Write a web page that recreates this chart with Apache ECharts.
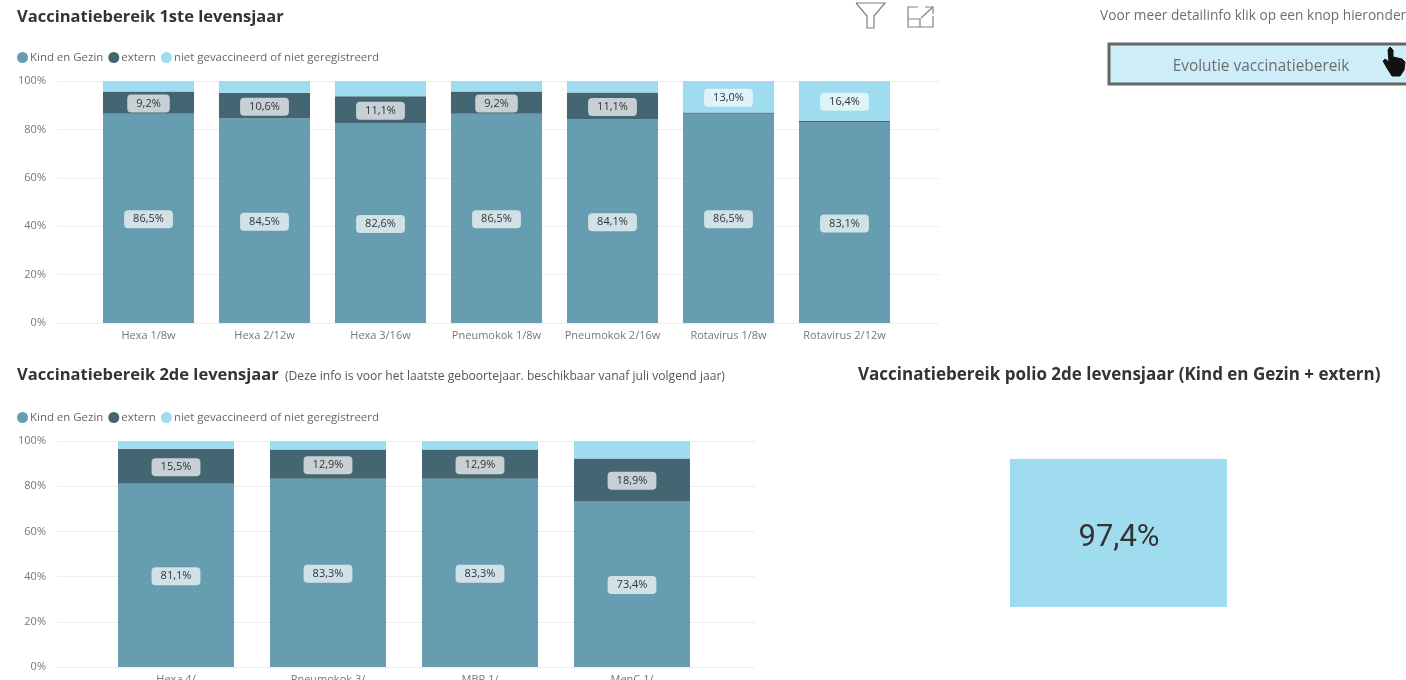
<!DOCTYPE html>
<html><head><meta charset="utf-8">
<style>html,body{margin:0;padding:0;background:#fff;overflow:hidden}#c{width:1406px;height:680px;filter:blur(0.35px)}</style>
<script src="https://cdn.jsdelivr.net/npm/echarts@6/dist/echarts.min.js"></script>
</head><body><div id="c"></div>
<script>
const seriesNames = ['Kind en Gezin', 'extern', 'niet gevaccineerd of niet geregistreerd'];
const seriesColors = ['#669DB0', '#436672', '#A0DCF0'];
const categories1 = ['Hexa 1/8w','Hexa 2/12w','Hexa 3/16w','Pneumokok 1/8w','Pneumokok 2/16w','Rotavirus 1/8w','Rotavirus 2/12w'];
const kindEnGezin1 = [86.5,84.5,82.6,86.5,84.1,86.5,83.1];
const extern1 = [9.2,10.6,11.1,9.2,11.1,0.5,0.5];
const niet1 = [4.3,4.9,6.3,4.3,4.8,13.0,16.4];
const externLabelled1 = [true,true,true,true,true,false,false];
const nietLabelled1 = [false,false,false,false,false,true,true];
const categories2 = ['Hexa 4/','Pneumokok 3/','MBR 1/','MenC 1/'];
const kindEnGezin2 = [81.1,83.3,83.3,73.4];
const extern2 = [15.5,12.9,12.9,18.9];
const niet2 = [3.4,3.8,3.8,7.7];
const polioValue = 97.4;
const yTicks = [0,20,40,60,80,100];

const FONT = '"Open Sans", sans-serif';
const fmt = v => v.toFixed(1).replace('.', ',') + '%';
const grey = '#777';

function barSeries(name, vals, color, xi, yi, labelBg, shown) {
  return {
    name, type:'bar', stack:'s'+xi, xAxisIndex:xi, yAxisIndex:yi,
    itemStyle:{color}, animation:false,
    barCategoryGap: xi===3 ? '23.7%' : '21.5%',
    data: vals.map((v,i)=>({value:v, label:{show: shown ? shown[i] : true}})),
    label:{show:true, position:'inside', offset:[0,1], formatter:p=>fmt(p.value),
      color:'#333', fontFamily:FONT, fontSize:11, backgroundColor:labelBg,
      borderRadius:4, padding:[3,9,3,9], lineHeight:12}
  };
}
const bgLight='rgba(255,255,255,0.7)';
const bgNiet='rgba(255,255,255,0.65)';

const grids = [
  {left:57,width:882,top:81,height:242,outerBoundsMode:'none'},
  {left:90.5,width:812,top:81,height:242,outerBoundsMode:'none'},
  {left:57,width:698,top:441,height:226,outerBoundsMode:'none'},
  {left:100,width:608,top:441,height:226,outerBoundsMode:'none'}
];
const xAxes = [
  {gridIndex:0,type:'category',data:[''],show:false},
  {gridIndex:1,type:'category',data:categories1,axisLine:{show:false},axisTick:{show:false},
    axisLabel:{color:grey,fontFamily:FONT,fontSize:11,margin:7,interval:0}},
  {gridIndex:2,type:'category',data:[''],show:false},
  {gridIndex:3,type:'category',data:categories2,axisLine:{show:false},axisTick:{show:false},
    axisLabel:{color:grey,fontFamily:FONT,fontSize:11,margin:7,interval:0}}
];
function yBack(g){return {gridIndex:g,type:'value',min:0,max:100,interval:20,
  splitLine:{lineStyle:{color:'#eeeeee',width:1}},axisLine:{show:false},axisTick:{show:false},
  axisLabel:{color:grey,fontFamily:FONT,fontSize:11,margin:11,formatter:v=>yTicks.includes(v)?v+'%':''}};}
function yHidden(g){return {gridIndex:g,type:'value',min:0,max:100,interval:20,show:false,splitLine:{show:false}};}

function txt(x,y,text,size,weight,color,align,font){
  return {type:'text',x,y,silent:true,style:{text,font:`${weight} ${size}px ${font||FONT}`,fill:color,textAlign:align||'left',textVerticalAlign:'middle'}};
}
function legend(top){
  return {top,left:12,itemWidth:11,itemHeight:11,itemGap:5,icon:'circle',
    data:seriesNames,selectedMode:false,
    textStyle:{color:'#666',fontFamily:FONT,fontSize:11.45,padding:[0,0,0,-3]}};
}
const line = pts => ({type:'polyline',shape:{points:pts},style:{fill:'none',stroke:'#808080',lineWidth:1.2}});
const graphic = [
  txt(17,17,'Vaccinatiebereik 1ste levensjaar',16.5,700,'#333'),
  txt(17,375,'Vaccinatiebereik 2de levensjaar',16.5,700,'#333'),
  txt(285,377,'(Deze info is voor het laatste geboortejaar. beschikbaar vanaf juli volgend jaar)',12.1,400,'#555'),
  txt(858,375,'Vaccinatiebereik polio 2de levensjaar (Kind en Gezin + extern)',17,700,'#333'),
  txt(1100,16,'Voor meer detailinfo klik op een knop hieronder',13.7,400,'#6e6e6e'),
  {type:'rect',shape:{x:1109,y:44,width:310,height:40},style:{fill:'#CDEDF8',stroke:'#666',lineWidth:3}},
  txt(1261,67,'Evolutie vaccinatiebereik',15.4,400,'#6e6e6e','center'),
  line([[856,3],[885,3],[874,16],[874,28],[867,28],[867,16],[856,3]]),
  line([[918,7],[908,7],[908,27],[933,27],[933,16]]),
  line([[908,19],[920,19],[920,27]]),
  line([[921,18],[933,7]]),
  line([[925,7],[933,7],[933,14]]),
  {type:'polygon',shape:{points:[[1388,50],[1390,47],[1393,50],[1393,57],[1402,59],[1405,62],[1404,70],[1400,76],[1392,76],[1387,68],[1383,61],[1385,59],[1389,62]]},style:{fill:'#111',stroke:'#111',lineWidth:1}},
  {type:'rect',shape:{x:1010,y:459,width:217,height:148},style:{fill:'#A0DCF0'}},
  txt(1119,538,fmt(polioValue),31,400,'#333','center','Roboto, sans-serif')
];

const option = {
  animation:false, backgroundColor:'#fff',
  legend:[legend(47),legend(407)],
  grid:grids, xAxis:xAxes,
  yAxis:[yBack(0),yHidden(1),yBack(2),yHidden(3)],
  graphic,
  series:[
    barSeries(seriesNames[0],kindEnGezin1,seriesColors[0],1,1,bgLight),
    barSeries(seriesNames[1],extern1,seriesColors[1],1,1,bgLight,externLabelled1),
    barSeries(seriesNames[2],niet1,seriesColors[2],1,1,bgNiet,nietLabelled1),
    barSeries(seriesNames[0],kindEnGezin2,seriesColors[0],3,3,bgLight),
    barSeries(seriesNames[1],extern2,seriesColors[1],3,3,bgLight),
    barSeries(seriesNames[2],niet2,seriesColors[2],3,3,bgNiet,niet2.map(()=>false))
  ]
};
const chart = echarts.init(document.getElementById('c'),null,{renderer:'canvas'});
chart.setOption(option);
</script></body></html>
